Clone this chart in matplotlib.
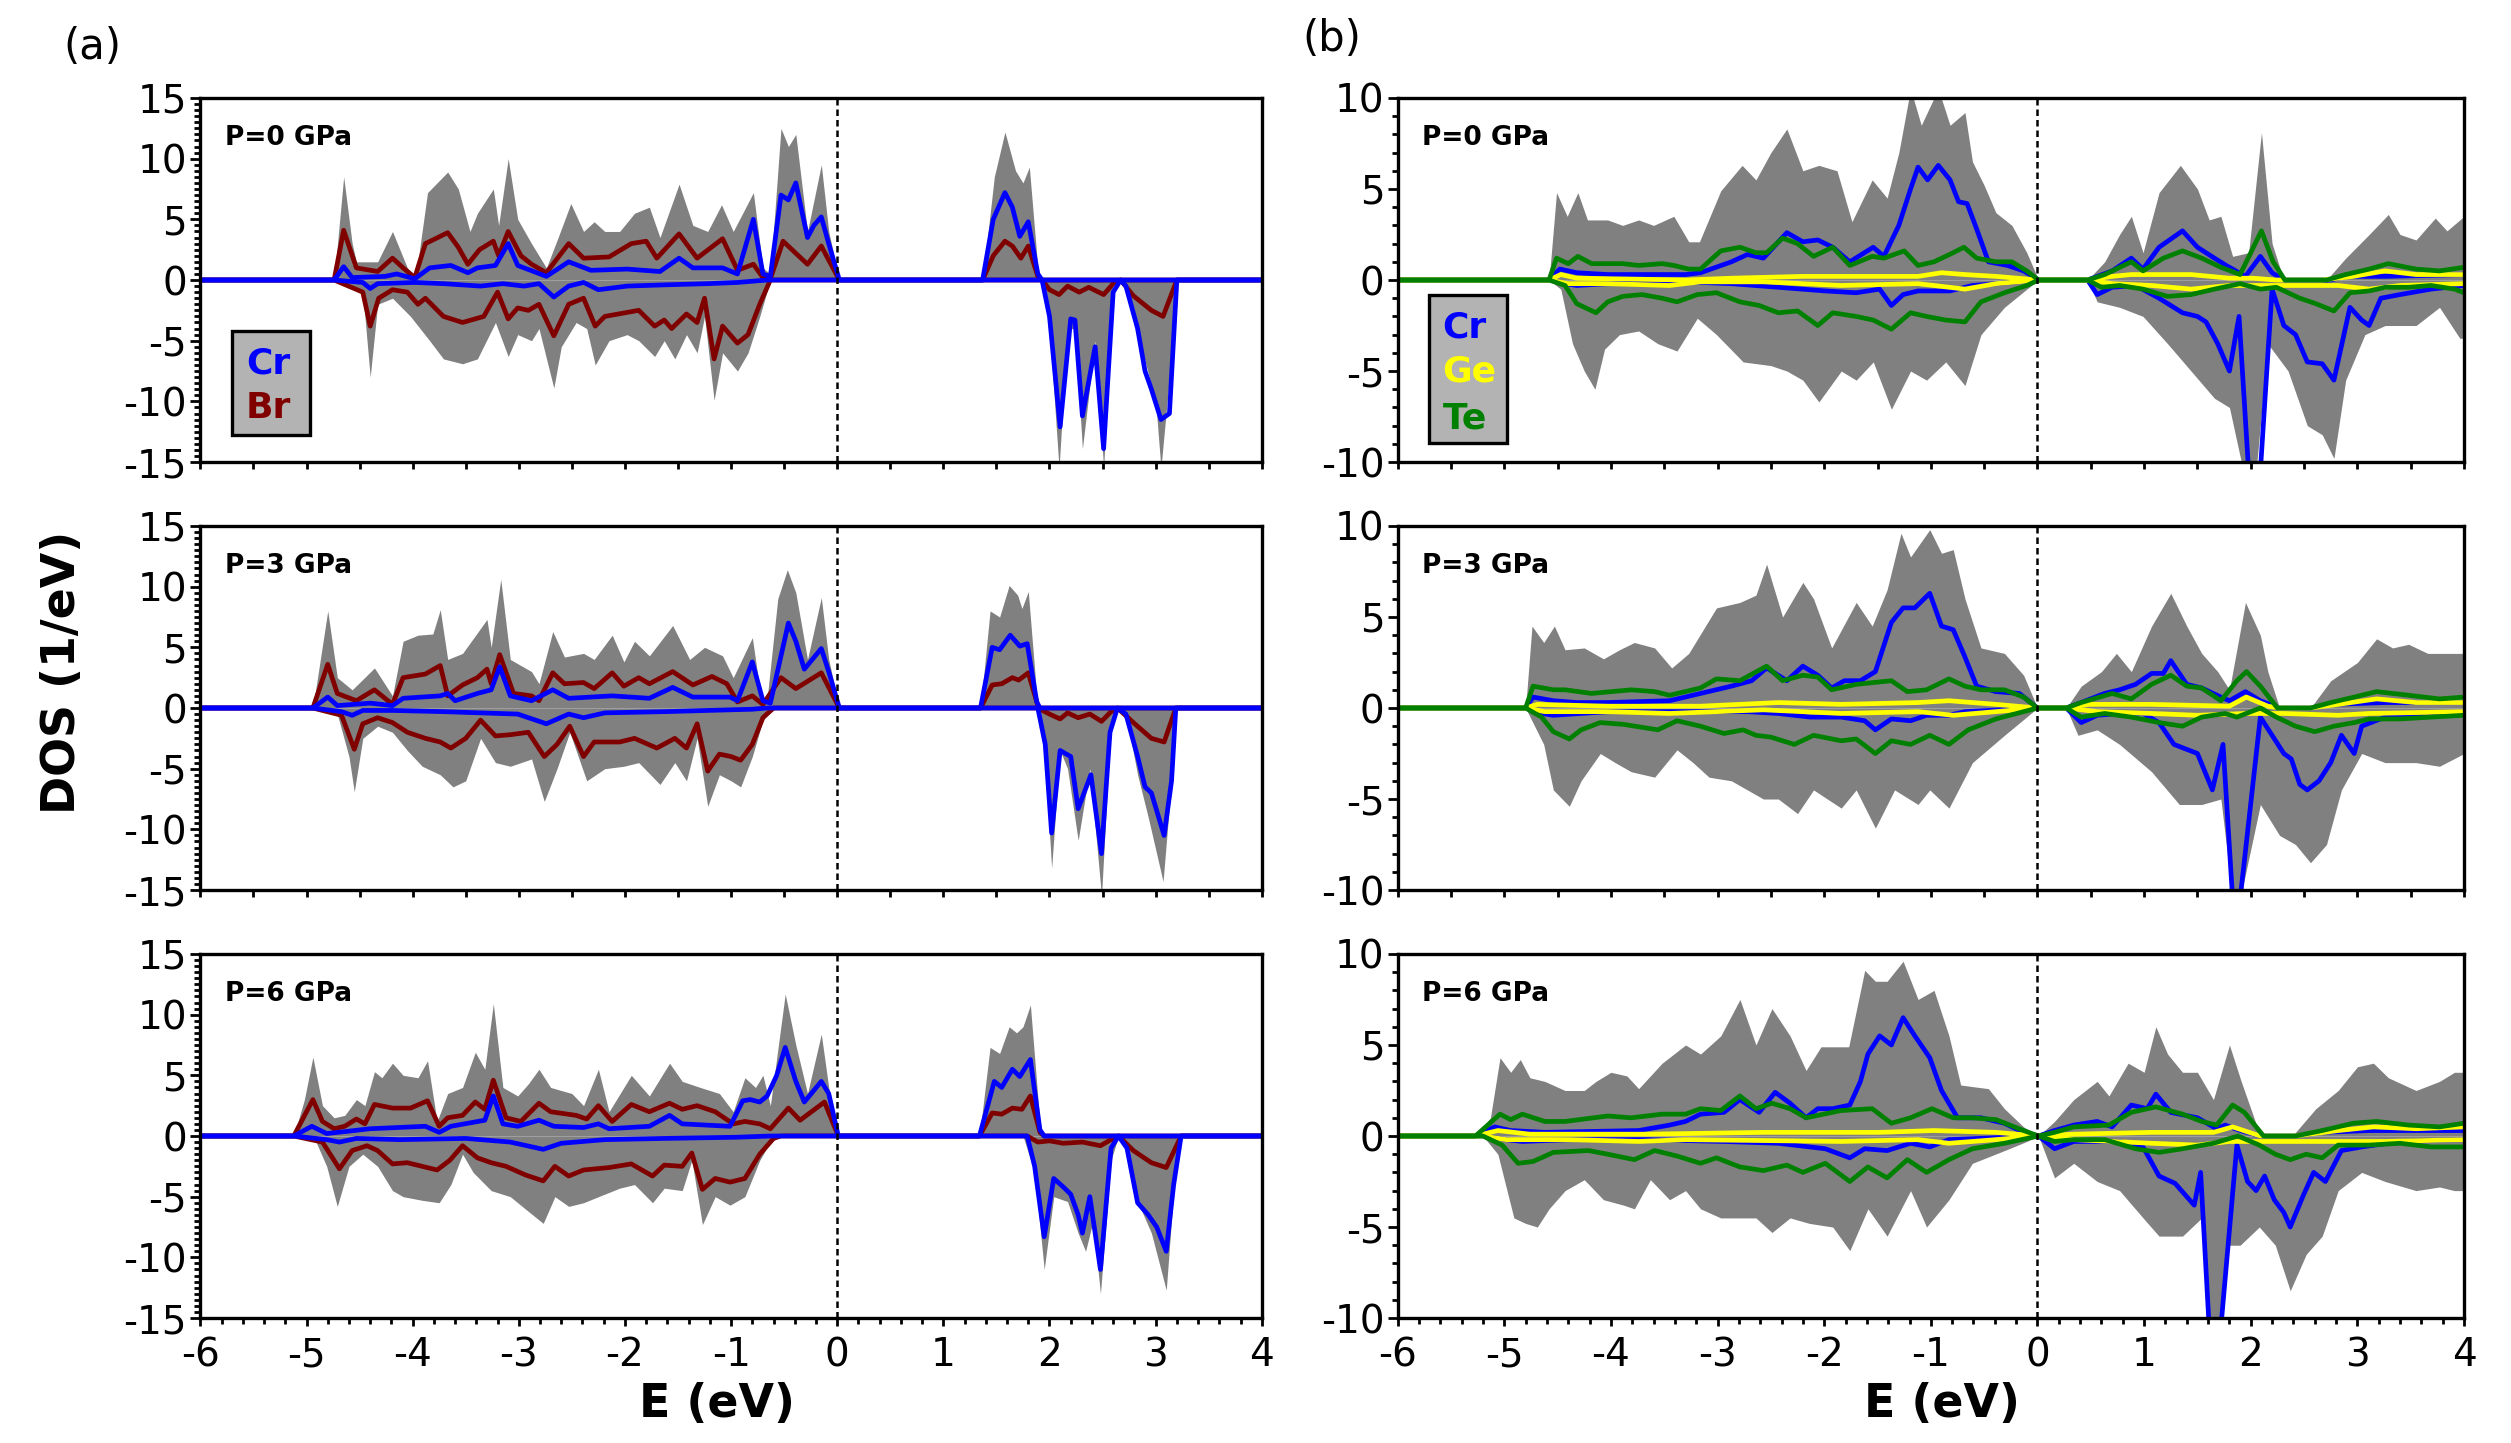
import numpy as np
import matplotlib
matplotlib.use("Agg")
import matplotlib.pyplot as plt
from matplotlib.ticker import MultipleLocator
from matplotlib.patches import Rectangle

# ---- (a) CrBr3 : (E, DOS) breakpoints ---------------------------------------
tot_up_a0 = [(-4.74,0),(-4.65,8.5),(-4.57,3.0),(-4.53,1.5),(-4.33,1.5),(-4.19,4.0),(-4.05,1.0),(-3.97,0.3),(-3.86,7.2),(-3.67,8.9),(-3.57,7.5),(-3.46,4.0),(-3.39,5.5),(-3.24,7.5),(-3.19,4.5),(-3.10,10.0),(-3.01,5.0),(-2.88,3.0),(-2.74,1.0),(-2.63,3.5),(-2.51,6.3),(-2.39,4.0),(-2.29,4.8),(-2.19,4.0),(-2.05,4.0),(-1.91,5.5),(-1.77,6.0),(-1.67,3.5),(-1.49,7.9),(-1.36,4.5),(-1.22,4.0),(-1.09,6.2),(-0.98,4.0),(-0.79,7.2),(-0.70,1.0),(-0.63,0.5),(-0.53,12.5),(-0.46,11.0),(-0.39,12.0),(-0.28,4.0),(-0.15,9.5),(-0.08,4.0),(0.02,0),
             (1.37,0),(1.48,8.5),(1.58,12.2),(1.68,9.0),(1.75,8.0),(1.81,9.3),(1.89,1.0),(1.93,0)]
tot_dn_a0 = [(-4.74,0),(-4.47,-1.0),(-4.40,-8.0),(-4.33,-2.0),(-4.19,-1.5),(-4.02,-3.0),(-3.84,-5.0),(-3.71,-6.5),(-3.53,-6.9),(-3.39,-6.5),(-3.22,-3.5),(-3.10,-6.3),(-3.01,-4.5),(-2.88,-5.0),(-2.81,-4.0),(-2.67,-8.9),(-2.60,-5.5),(-2.46,-3.5),(-2.36,-4.0),(-2.28,-7.0),(-2.15,-5.0),(-1.98,-4.5),(-1.87,-5.0),(-1.72,-6.3),(-1.63,-5.0),(-1.53,-6.5),(-1.42,-4.5),(-1.32,-6.0),(-1.25,-3.0),(-1.16,-9.9),(-1.08,-6.0),(-0.94,-7.5),(-0.84,-6.0),(-0.73,-3.0),(-0.63,0),
             (1.93,0),(2.00,-4.0),(2.09,-15.5),(2.17,-4.0),(2.24,-4.0),(2.31,-13.9),(2.43,-5.0),(2.51,-15.5),(2.60,0),(2.69,0),(2.79,-3.0),(2.91,-7.0),(3.00,-10.0),(3.05,-15.5),(3.13,-8.0),(3.20,0)]
br_up_a0 = [(-4.74,0),(-4.65,4.1),(-4.53,1.0),(-4.33,0.7),(-4.19,1.8),(-4.09,1.0),(-3.98,0.2),(-3.88,3.0),(-3.67,3.9),(-3.57,2.7),(-3.48,1.3),(-3.37,2.5),(-3.24,3.2),(-3.19,2.0),(-3.10,4.0),(-2.98,2.0),(-2.88,1.3),(-2.74,0.6),(-2.53,3.0),(-2.39,1.8),(-2.15,1.9),(-1.94,3.0),(-1.80,3.2),(-1.70,1.8),(-1.49,3.8),(-1.32,1.8),(-1.08,3.4),(-0.94,0.8),(-0.79,1.3),(-0.70,0.2),(-0.63,0.1),(-0.51,3.2),(-0.39,2.2),(-0.28,1.3),(-0.15,2.8),(0.02,0),
            (1.37,0),(1.47,2.0),(1.58,3.2),(1.65,2.8),(1.73,1.8),(1.80,2.8),(1.89,0.3),(1.93,0)]
br_dn_a0 = [(-4.74,0),(-4.47,-1.0),(-4.40,-3.8),(-4.32,-1.5),(-4.19,-0.8),(-4.05,-1.0),(-3.95,-2.0),(-3.88,-1.5),(-3.71,-3.0),(-3.53,-3.5),(-3.33,-3.0),(-3.20,-1.0),(-3.10,-3.2),(-3.01,-2.3),(-2.91,-2.5),(-2.81,-2.0),(-2.67,-4.6),(-2.53,-2.0),(-2.39,-1.5),(-2.28,-3.8),(-2.19,-3.0),(-1.87,-2.5),(-1.72,-3.8),(-1.63,-3.3),(-1.56,-4.0),(-1.42,-2.8),(-1.32,-3.5),(-1.25,-1.5),(-1.16,-6.5),(-1.08,-3.8),(-0.94,-5.2),(-0.84,-4.5),(-0.73,-2.0),(-0.63,0),
            (1.93,0),(2.00,-0.8),(2.09,-1.2),(2.17,-0.5),(2.28,-1.0),(2.37,-0.6),(2.51,-1.2),(2.60,-0.3),(2.67,0),(2.79,-1.3),(2.96,-2.5),(3.07,-3.0),(3.20,0)]
cr_up_a0 = [(-4.74,0),(-4.65,1.1),(-4.57,0.2),(-4.26,0.3),(-4.15,0.5),(-3.98,0.1),(-3.84,1.0),(-3.64,1.2),(-3.48,0.6),(-3.39,1.0),(-3.22,1.2),(-3.10,3.0),(-3.01,1.2),(-2.74,0.3),(-2.53,1.5),(-2.32,0.8),(-1.98,0.9),(-1.67,0.7),(-1.49,1.8),(-1.36,1.0),(-1.08,1.0),(-0.94,0.5),(-0.79,5.0),(-0.70,0.5),(-0.63,0.3),(-0.53,7.0),(-0.46,6.6),(-0.39,8.0),(-0.28,3.5),(-0.22,4.5),(-0.15,5.2),(-0.08,3.0),(0.02,0),
            (1.37,0),(1.47,5.0),(1.58,7.2),(1.65,6.0),(1.72,3.6),(1.80,4.8),(1.89,0.5),(1.93,0)]
cr_dn_a0 = [(-4.74,0),(-4.47,-0.2),(-4.40,-0.7),(-4.33,-0.3),(-3.98,-0.2),(-3.71,-0.3),(-3.36,-0.5),(-3.15,-0.3),(-2.95,-0.5),(-2.81,-0.3),(-2.67,-1.4),(-2.53,-0.5),(-2.39,-0.2),(-2.25,-0.8),(-1.98,-0.5),(-1.63,-0.4),(-1.22,-0.3),(-0.94,-0.2),(-0.66,0),
            (1.93,0),(2.00,-3.0),(2.10,-12.1),(2.20,-3.2),(2.24,-3.3),(2.31,-11.2),(2.43,-5.5),(2.51,-13.9),(2.60,-1.0),(2.67,0),(2.72,-0.5),(2.83,-4.0),(2.90,-7.5),(2.96,-9.0),(3.05,-11.5),(3.13,-11.0),(3.20,0)]

tot_up_a3 = [(-4.94,0),(-4.80,8.0),(-4.71,2.5),(-4.57,1.5),(-4.36,3.3),(-4.19,1.0),(-4.09,5.5),(-3.95,6.0),(-3.81,6.1),(-3.74,8.1),(-3.67,4.0),(-3.53,4.5),(-3.39,6.2),(-3.30,7.3),(-3.26,5.0),(-3.17,10.6),(-3.08,4.0),(-2.88,3.0),(-2.81,2.0),(-2.68,6.3),(-2.57,4.2),(-2.39,4.5),(-2.29,4.0),(-2.12,6.0),(-2.01,3.8),(-1.91,5.5),(-1.77,4.3),(-1.55,6.8),(-1.39,4.0),(-1.25,5.0),(-1.08,4.3),(-0.98,2.5),(-0.80,5.8),(-0.72,1.0),(-0.66,0.8),(-0.56,9.0),(-0.47,11.4),(-0.39,9.5),(-0.28,4.0),(-0.15,9.1),(-0.08,4.0),(0.02,0),
             (1.35,0),(1.44,8.0),(1.53,7.5),(1.62,10.1),(1.70,9.3),(1.74,8.2),(1.80,9.6),(1.88,1.0),(1.91,0)]
tot_dn_a3 = [(-4.94,0),(-4.71,-0.5),(-4.60,-4.0),(-4.55,-6.9),(-4.47,-2.5),(-4.33,-1.5),(-4.19,-2.0),(-4.05,-3.5),(-3.91,-4.8),(-3.74,-5.5),(-3.62,-6.5),(-3.50,-6.0),(-3.36,-2.5),(-3.22,-4.5),(-3.08,-4.8),(-2.88,-4.2),(-2.76,-7.7),(-2.64,-5.0),(-2.52,-2.0),(-2.36,-6.0),(-2.19,-5.0),(-2.01,-4.8),(-1.87,-4.5),(-1.67,-6.3),(-1.53,-4.5),(-1.42,-6.0),(-1.32,-2.5),(-1.22,-8.1),(-1.11,-5.5),(-1.00,-6.0),(-0.91,-6.5),(-0.80,-4.0),(-0.70,-1.0),(-0.60,0),
             (1.89,0),(1.95,-3.0),(2.02,-13.2),(2.10,-3.5),(2.17,-5.0),(2.27,-10.9),(2.38,-5.0),(2.49,-15.5),(2.58,-1.0),(2.65,0),(2.72,-0.5),(2.83,-5.5),(2.93,-9.0),(3.07,-14.3),(3.13,-8.0),(3.19,0)]
br_up_a3 = [(-4.94,0),(-4.80,3.6),(-4.71,1.2),(-4.53,0.6),(-4.36,1.5),(-4.19,0.3),(-4.09,2.5),(-3.88,2.8),(-3.74,3.5),(-3.67,1.0),(-3.53,1.9),(-3.39,2.5),(-3.30,3.2),(-3.26,2.0),(-3.18,4.4),(-3.05,1.2),(-2.88,1.0),(-2.81,0.6),(-2.68,2.9),(-2.57,2.0),(-2.39,2.1),(-2.29,1.6),(-2.12,2.9),(-2.01,1.8),(-1.87,2.5),(-1.77,2.0),(-1.55,3.0),(-1.36,1.9),(-1.18,2.6),(-1.04,2.0),(-0.94,0.5),(-0.80,1.0),(-0.70,0.3),(-0.53,2.5),(-0.39,1.6),(-0.15,2.9),(0.02,0),
            (1.35,0),(1.46,1.9),(1.55,2.0),(1.65,2.5),(1.71,2.3),(1.80,2.9),(1.89,0.2),(1.91,0)]
br_dn_a3 = [(-4.94,0),(-4.67,-0.6),(-4.55,-3.4),(-4.47,-1.3),(-4.33,-0.8),(-4.19,-1.2),(-4.05,-2.0),(-3.88,-2.5),(-3.74,-2.8),(-3.64,-3.3),(-3.50,-2.5),(-3.36,-1.0),(-3.22,-2.3),(-3.08,-2.2),(-2.91,-2.0),(-2.76,-4.0),(-2.64,-3.0),(-2.52,-1.5),(-2.39,-4.0),(-2.29,-2.8),(-2.05,-2.8),(-1.91,-2.5),(-1.70,-3.3),(-1.53,-2.5),(-1.42,-3.3),(-1.32,-1.3),(-1.22,-5.2),(-1.11,-3.8),(-1.00,-4.0),(-0.91,-4.3),(-0.80,-3.0),(-0.70,-0.8),(-0.60,0),
            (1.89,0),(2.00,-0.5),(2.10,-0.9),(2.17,-0.4),(2.27,-0.8),(2.38,-0.5),(2.49,-1.1),(2.58,-0.3),(2.64,0),(2.79,-1.2),(2.96,-2.5),(3.08,-2.8),(3.19,0)]
cr_up_a3 = [(-4.94,0),(-4.80,0.9),(-4.71,0.2),(-4.40,0.4),(-4.19,0.2),(-4.09,0.8),(-3.74,1.0),(-3.67,1.2),(-3.60,0.6),(-3.39,1.2),(-3.26,1.5),(-3.18,3.4),(-3.08,1.0),(-2.88,0.6),(-2.68,1.5),(-2.53,0.8),(-2.12,1.0),(-1.77,0.8),(-1.55,1.7),(-1.36,0.9),(-1.01,0.9),(-0.94,0.6),(-0.80,3.8),(-0.70,0.6),(-0.63,0.4),(-0.46,7.0),(-0.39,5.5),(-0.31,3.2),(-0.15,4.9),(-0.08,3.0),(0.02,0),
            (1.35,0),(1.46,5.0),(1.53,4.8),(1.63,6.0),(1.72,5.1),(1.79,5.3),(1.88,0.5),(1.91,0)]
cr_dn_a3 = [(-4.94,0),(-4.67,-0.3),(-4.57,-0.6),(-4.47,-0.2),(-4.19,-0.2),(-3.71,-0.3),(-3.36,-0.4),(-3.01,-0.5),(-2.74,-1.3),(-2.53,-0.5),(-2.39,-0.8),(-2.19,-0.4),(-1.63,-0.3),(-1.22,-0.2),(-0.80,-0.1),(-0.66,0),
            (1.89,0),(1.96,-3.0),(2.02,-10.3),(2.10,-3.5),(2.20,-4.0),(2.27,-8.3),(2.39,-5.5),(2.49,-12.0),(2.57,-2.0),(2.64,0),(2.72,-0.5),(2.83,-4.0),(2.90,-6.5),(2.96,-7.0),(3.08,-10.5),(3.15,-6.0),(3.19,0)]

tot_up_a6 = [(-5.12,0),(-5.02,3.0),(-4.94,6.5),(-4.85,2.5),(-4.74,1.5),(-4.64,1.7),(-4.53,3.0),(-4.45,2.5),(-4.36,5.3),(-4.29,4.8),(-4.19,6.0),(-4.09,5.0),(-3.95,4.8),(-3.86,6.2),(-3.77,1.2),(-3.67,3.5),(-3.53,4.0),(-3.41,6.9),(-3.32,5.5),(-3.24,10.9),(-3.15,4.0),(-3.01,3.3),(-2.91,4.3),(-2.81,5.5),(-2.70,4.0),(-2.50,3.5),(-2.39,2.5),(-2.25,5.5),(-2.15,2.0),(-1.94,5.0),(-1.77,3.3),(-1.58,6.0),(-1.46,4.5),(-1.29,4.0),(-1.11,3.5),(-0.98,2.0),(-0.87,4.8),(-0.77,4.0),(-0.70,5.0),(-0.63,2.5),(-0.49,11.7),(-0.39,7.5),(-0.28,3.5),(-0.15,8.4),(-0.08,4.0),(0.01,0),
             (1.34,0),(1.44,7.3),(1.53,6.8),(1.62,9.0),(1.69,8.5),(1.75,9.0),(1.82,10.8),(1.91,1.0),(1.95,0)]
tot_dn_a6 = [(-5.12,0),(-4.92,-0.3),(-4.81,-2.5),(-4.71,-5.8),(-4.60,-2.5),(-4.47,-1.5),(-4.33,-2.5),(-4.19,-4.5),(-4.09,-5.0),(-3.91,-5.3),(-3.75,-5.5),(-3.64,-4.0),(-3.53,-1.5),(-3.43,-3.0),(-3.26,-4.5),(-3.08,-5.0),(-2.94,-6.0),(-2.77,-7.2),(-2.66,-5.0),(-2.53,-5.8),(-2.39,-5.5),(-2.25,-5.0),(-2.05,-4.3),(-1.91,-4.0),(-1.74,-5.5),(-1.63,-4.3),(-1.46,-4.5),(-1.37,-2.0),(-1.27,-7.3),(-1.15,-5.0),(-1.01,-5.7),(-0.87,-5.0),(-0.73,-2.0),(-0.63,-0.5),(-0.53,0),
             (1.75,0),(1.86,-3.0),(1.95,-11.0),(2.04,-5.0),(2.17,-5.4),(2.27,-8.0),(2.34,-9.5),(2.41,-7.0),(2.48,-13.0),(2.58,-2.0),(2.65,0),(2.72,-1.0),(2.86,-6.0),(2.96,-8.0),(3.10,-12.7),(3.17,-4.5),(3.24,0)]
br_up_a6 = [(-5.12,0),(-4.94,3.0),(-4.85,1.2),(-4.74,0.6),(-4.64,0.8),(-4.53,1.4),(-4.45,1.0),(-4.36,2.6),(-4.19,2.3),(-4.02,2.3),(-3.86,2.9),(-3.75,0.8),(-3.67,1.5),(-3.53,1.7),(-3.41,2.8),(-3.32,2.2),(-3.24,4.6),(-3.12,1.5),(-2.98,1.2),(-2.81,2.7),(-2.70,2.0),(-2.46,1.7),(-2.36,1.4),(-2.25,2.5),(-2.12,1.2),(-1.94,2.6),(-1.77,2.0),(-1.58,2.7),(-1.46,2.2),(-1.32,2.5),(-1.15,2.0),(-0.98,1.0),(-0.87,1.2),(-0.73,1.0),(-0.63,0.6),(-0.46,2.3),(-0.35,1.3),(-0.12,2.8),(0.01,0),
            (1.34,0),(1.46,1.9),(1.55,1.8),(1.65,2.3),(1.74,2.2),(1.82,3.3),(1.91,0.3),(1.95,0)]
br_dn_a6 = [(-5.12,0),(-4.85,-0.5),(-4.69,-2.7),(-4.57,-1.2),(-4.43,-0.8),(-4.33,-1.2),(-4.19,-2.3),(-4.05,-2.2),(-3.91,-2.5),(-3.77,-2.8),(-3.65,-2.0),(-3.53,-0.8),(-3.39,-1.8),(-3.26,-2.2),(-3.12,-2.5),(-2.94,-3.2),(-2.77,-3.7),(-2.66,-2.5),(-2.53,-3.3),(-2.39,-2.8),(-2.15,-2.6),(-1.94,-2.3),(-1.74,-3.3),(-1.63,-2.4),(-1.46,-2.5),(-1.37,-1.4),(-1.27,-4.4),(-1.15,-3.5),(-1.01,-3.8),(-0.87,-3.5),(-0.73,-1.5),(-0.60,-0.2),(-0.53,0),
            (1.79,0),(1.89,-0.5),(2.00,-0.4),(2.13,-0.6),(2.31,-0.5),(2.48,-0.8),(2.58,-0.3),(2.65,0),(2.79,-1.2),(2.96,-2.2),(3.10,-2.6),(3.24,0)]
cr_up_a6 = [(-5.12,0),(-4.95,0.8),(-4.81,0.2),(-4.60,0.4),(-4.40,0.6),(-3.88,0.8),(-3.75,0.3),(-3.64,0.8),(-3.32,1.3),(-3.24,3.3),(-3.15,1.0),(-3.01,0.8),(-2.81,1.3),(-2.67,0.8),(-2.39,0.7),(-2.25,1.0),(-2.15,0.6),(-1.77,0.8),(-1.58,1.7),(-1.46,1.0),(-1.01,0.8),(-0.89,2.9),(-0.82,3.0),(-0.73,2.8),(-0.66,3.3),(-0.57,5.0),(-0.49,7.3),(-0.39,4.5),(-0.31,2.8),(-0.15,4.5),(-0.08,3.5),(0.01,0),
            (1.34,0),(1.48,4.5),(1.55,4.0),(1.65,5.5),(1.72,4.9),(1.82,6.3),(1.91,0.5),(1.95,0)]
cr_dn_a6 = [(-5.12,0),(-4.81,-0.3),(-4.69,-0.5),(-4.53,-0.2),(-4.12,-0.3),(-3.50,-0.2),(-3.08,-0.5),(-2.77,-1.1),(-2.60,-0.6),(-2.19,-0.3),(-1.63,-0.2),(-0.94,-0.1),(-0.63,0),
            (1.79,0),(1.86,-2.5),(1.95,-8.3),(2.04,-3.5),(2.13,-4.2),(2.20,-4.8),(2.27,-6.5),(2.31,-8.0),(2.38,-5.0),(2.48,-11.0),(2.58,-1.0),(2.65,0),(2.73,-1.0),(2.83,-5.5),(2.93,-6.5),(3.01,-7.5),(3.10,-9.5),(3.17,-4.0),(3.24,0)]

# ---- (b) CrGeTe3 -------------------------------------------------------------
tot_up_b0 = [(-4.58,0),(-4.51,4.8),(-4.41,3.5),(-4.31,4.8),(-4.22,3.3),(-4.03,3.3),(-3.89,3.0),(-3.74,3.3),(-3.60,3.0),(-3.41,3.5),(-3.27,2.1),(-3.17,2.1),(-2.97,4.9),(-2.77,6.3),(-2.64,5.5),(-2.50,7.0),(-2.35,8.3),(-2.20,6.0),(-2.05,6.3),(-1.88,6.0),(-1.74,3.2),(-1.55,5.5),(-1.41,4.5),(-1.30,7.0),(-1.19,10.5),(-1.09,8.5),(-0.93,10.5),(-0.82,8.5),(-0.68,9.2),(-0.61,6.5),(-0.50,5.2),(-0.39,3.7),(-0.24,3.0),(-0.10,1.5),(0.01,0),
             (0.47,0),(0.63,1.0),(0.77,2.5),(0.88,3.5),(0.99,1.5),(1.14,4.8),(1.34,6.3),(1.50,5.0),(1.61,3.3),(1.72,3.5),(1.83,1.3),(1.98,1.5),(2.10,8.1),(2.20,2.0),(2.31,0),(2.71,0),(2.89,1.2),(3.11,2.5),(3.29,3.6),(3.40,2.5),(3.55,2.2),(3.73,3.4),(3.84,2.7),(4.00,3.5)]
tot_dn_b0 = [(-4.58,0),(-4.47,-0.5),(-4.36,-3.5),(-4.25,-5.0),(-4.15,-6.0),(-4.06,-3.8),(-3.92,-3.0),(-3.74,-2.8),(-3.56,-3.5),(-3.38,-3.9),(-3.19,-2.1),(-3.01,-3.0),(-2.76,-4.5),(-2.50,-4.7),(-2.35,-5.0),(-2.20,-5.5),(-2.05,-6.7),(-1.84,-5.0),(-1.70,-5.5),(-1.54,-4.5),(-1.37,-7.1),(-1.19,-5.0),(-1.04,-5.5),(-0.86,-4.5),(-0.68,-5.8),(-0.53,-3.0),(-0.31,-1.5),(-0.10,-0.5),(0.01,0),
             (0.47,0),(0.56,-1.2),(0.77,-1.5),(0.99,-2.0),(1.22,-3.5),(1.44,-5.0),(1.66,-6.5),(1.80,-7.0),(1.93,-10.5),(2.05,-10.5),(2.16,-3.5),(2.35,-5.0),(2.53,-8.0),(2.67,-8.5),(2.78,-9.8),(2.89,-5.5),(3.07,-3.0),(3.26,-2.5),(3.55,-2.5),(3.77,-1.5),(3.96,-3.2),(4.00,-3.2)]
cr_up_b0 = [(-4.58,0),(-4.48,0.6),(-4.32,0.4),(-4.03,0.3),(-3.30,0.3),(-3.16,0.4),(-2.87,1.0),(-2.72,1.4),(-2.57,1.2),(-2.35,2.6),(-2.20,2.1),(-2.06,2.2),(-1.92,1.8),(-1.76,1.0),(-1.54,1.8),(-1.44,1.3),(-1.30,3.0),(-1.19,5.0),(-1.12,6.2),(-1.03,5.5),(-0.93,6.3),(-0.82,5.5),(-0.74,4.3),(-0.66,4.2),(-0.57,2.8),(-0.46,1.0),(-0.28,0.8),(-0.13,0.5),(0.01,0),
            (0.47,0),(0.70,0.5),(0.88,1.2),(0.99,0.6),(1.14,1.8),(1.36,2.7),(1.50,1.8),(1.66,1.2),(1.77,0.8),(1.95,0.2),(2.09,1.3),(2.20,0.4),(2.31,0),(2.75,0),(2.89,0.2),(3.26,0.2),(4.00,0.3)]
cr_dn_b0 = [(-4.58,0),(-4.43,-0.2),(-4.32,-0.3),(-4.03,-0.2),(-3.30,-0.1),(-2.87,-0.2),(-2.43,-0.4),(-1.99,-0.6),(-1.70,-0.7),(-1.48,-0.5),(-1.37,-1.4),(-1.26,-0.8),(-1.12,-0.6),(-0.82,-0.6),(-0.61,-0.3),(-0.39,-0.2),(0.01,0),
            (0.47,0),(0.56,-0.8),(0.70,-0.4),(0.92,-0.3),(1.14,-1.0),(1.36,-1.8),(1.50,-2.0),(1.58,-2.3),(1.69,-3.5),(1.80,-5.0),(1.89,-2.0),(1.98,-10.5),(2.09,-10.5),(2.20,-0.5),(2.31,-2.5),(2.42,-3.0),(2.53,-4.5),(2.67,-4.6),(2.78,-5.5),(2.93,-1.5),(3.04,-2.2),(3.11,-2.5),(3.22,-1.0),(3.40,-0.8),(3.69,-0.5),(4.00,-0.3)]
ge_up_b0 = [(-4.58,0),(-4.47,0.3),(-4.32,0.1),(-3.30,0.0),(-2.87,0.1),(-2.20,0.2),(-1.12,0.2),(-0.90,0.4),(-0.68,0.3),(-0.39,0.2),(0.01,0),
            (0.47,0),(0.70,0.2),(0.88,0.3),(1.44,0.3),(1.80,0.1),(2.02,0.1),(2.24,0),(2.67,0),(2.96,0.2),(3.26,0.5),(3.55,0.3),(4.00,0.3)]
ge_dn_b0 = [(-4.58,0),(-4.40,-0.2),(-4.03,-0.2),(-3.45,-0.3),(-3.16,-0.1),(-2.57,-0.1),(-1.84,-0.3),(-1.12,-0.2),(-0.68,-0.5),(-0.39,-0.2),(0.01,0),
            (0.47,0),(0.70,-0.2),(1.07,-0.3),(1.44,-0.5),(1.80,-0.3),(2.09,-0.3),(2.31,-0.3),(2.53,-0.3),(2.82,-0.3),(3.11,-0.5),(3.40,-0.3),(4.00,-0.2)]
te_up_b0 = [(-4.58,0),(-4.51,1.2),(-4.40,0.9),(-4.31,1.3),(-4.18,0.9),(-3.89,0.9),(-3.74,0.8),(-3.52,0.9),(-3.41,0.8),(-3.27,0.6),(-3.16,0.6),(-2.97,1.6),(-2.79,1.8),(-2.64,1.5),(-2.54,1.5),(-2.39,2.3),(-2.25,2.0),(-2.10,1.3),(-1.92,1.8),(-1.76,0.8),(-1.55,1.3),(-1.44,1.2),(-1.25,1.6),(-1.12,0.8),(-0.97,1.0),(-0.79,1.5),(-0.69,1.8),(-0.57,1.2),(-0.39,1.0),(-0.24,1.0),(-0.10,0.5),(0.01,0),
            (0.47,0),(0.63,0.3),(0.88,1.0),(0.99,0.5),(1.18,1.2),(1.36,1.6),(1.54,1.2),(1.72,0.7),(1.90,0.3),(2.10,2.7),(2.21,1.0),(2.32,0),(2.71,0),(2.89,0.3),(3.11,0.6),(3.29,0.9),(3.55,0.6),(3.77,0.5),(4.00,0.7)]
te_dn_b0 = [(-4.58,0),(-4.43,-0.3),(-4.32,-1.3),(-4.14,-1.8),(-4.03,-1.2),(-3.89,-0.9),(-3.71,-0.8),(-3.52,-1.0),(-3.38,-1.2),(-3.19,-0.8),(-3.01,-0.7),(-2.79,-1.2),(-2.61,-1.4),(-2.43,-1.8),(-2.25,-1.7),(-2.06,-2.5),(-1.92,-1.8),(-1.70,-2.0),(-1.54,-2.2),(-1.37,-2.7),(-1.19,-1.8),(-1.04,-2.0),(-0.86,-2.2),(-0.68,-2.3),(-0.53,-1.2),(-0.31,-0.7),(-0.10,-0.3),(0.01,0),
            (0.47,0),(0.60,-0.4),(0.77,-0.3),(0.99,-0.5),(1.22,-0.9),(1.44,-0.8),(1.66,-0.5),(1.90,-0.2),(2.09,-0.5),(2.24,-0.4),(2.46,-1.0),(2.61,-1.3),(2.78,-1.7),(2.93,-0.7),(3.11,-0.6),(3.26,-0.4),(3.48,-0.4),(3.69,-0.3),(3.91,-0.5),(4.00,-0.7)]

tot_up_b3 = [(-4.80,0),(-4.74,4.5),(-4.63,3.6),(-4.53,4.5),(-4.43,3.2),(-4.25,3.3),(-4.07,2.7),(-3.92,3.2),(-3.78,3.6),(-3.59,3.3),(-3.43,2.2),(-3.27,3.0),(-3.01,5.5),(-2.79,5.8),(-2.64,6.2),(-2.54,7.9),(-2.39,5.0),(-2.20,6.9),(-2.10,6.0),(-1.93,3.3),(-1.70,5.8),(-1.55,4.5),(-1.41,6.5),(-1.28,9.6),(-1.19,8.3),(-1.01,9.8),(-0.90,8.5),(-0.79,8.7),(-0.68,6.0),(-0.53,3.3),(-0.31,3.0),(-0.13,1.8),(0.00,0),
             (0.27,0),(0.41,1.2),(0.60,2.0),(0.74,3.0),(0.88,2.0),(1.07,4.5),(1.25,6.3),(1.40,4.5),(1.54,3.0),(1.69,2.0),(1.80,1.0),(1.95,5.8),(2.09,4.0),(2.16,2.0),(2.27,0),(2.56,0),(2.75,1.5),(3.00,2.5),(3.18,3.8),(3.33,3.3),(3.48,3.5),(3.66,3.0),(3.81,3.0),(4.00,3.0)]
tot_dn_b3 = [(-4.80,0),(-4.63,-2.0),(-4.54,-4.5),(-4.39,-5.4),(-4.28,-4.0),(-4.10,-2.5),(-3.96,-3.0),(-3.81,-3.5),(-3.59,-3.8),(-3.38,-2.3),(-3.23,-3.0),(-3.08,-3.8),(-2.87,-4.0),(-2.57,-5.0),(-2.43,-5.0),(-2.25,-5.8),(-2.10,-4.5),(-1.84,-5.5),(-1.70,-4.5),(-1.52,-6.6),(-1.34,-4.5),(-1.12,-5.3),(-1.01,-4.5),(-0.83,-5.5),(-0.61,-3.0),(-0.31,-1.5),(0.00,0),
             (0.27,0),(0.38,-1.5),(0.56,-1.2),(0.77,-2.0),(1.07,-3.5),(1.33,-5.3),(1.54,-5.3),(1.72,-5.0),(1.83,-10.5),(1.90,-10.5),(2.09,-5.3),(2.27,-7.0),(2.42,-7.5),(2.56,-8.5),(2.71,-7.5),(2.85,-4.5),(3.04,-2.5),(3.26,-3.0),(3.55,-3.0),(3.77,-3.2),(4.00,-2.5)]
cr_up_b3 = [(-4.80,0),(-4.73,0.6),(-4.54,0.4),(-4.32,0.3),(-4.03,0.3),(-3.45,0.4),(-3.16,0.8),(-2.87,1.2),(-2.68,1.5),(-2.54,2.2),(-2.35,1.5),(-2.20,2.3),(-2.06,1.8),(-1.93,1.1),(-1.81,1.5),(-1.66,1.5),(-1.52,2.0),(-1.37,4.7),(-1.26,5.5),(-1.15,5.5),(-1.01,6.3),(-0.90,4.5),(-0.79,4.3),(-0.68,2.8),(-0.57,1.2),(-0.39,0.9),(-0.17,0.8),(0.00,0),
            (0.27,0),(0.41,0.3),(0.63,0.8),(0.77,1.0),(0.92,1.3),(1.07,1.9),(1.18,1.9),(1.25,2.6),(1.40,1.3),(1.54,1.1),(1.72,0.6),(1.80,0.4),(1.95,0.9),(2.09,0.4),(2.27,0),(2.56,0),(2.75,0.2),(3.26,0.3),(4.00,0.3)]
cr_dn_b3 = [(-4.80,0),(-4.65,-0.3),(-4.54,-0.4),(-4.03,-0.2),(-3.30,-0.2),(-2.72,-0.2),(-2.43,-0.3),(-2.13,-0.5),(-1.84,-0.5),(-1.62,-0.7),(-1.52,-1.2),(-1.37,-0.6),(-1.19,-0.7),(-1.04,-0.4),(-0.83,-0.4),(-0.68,-0.2),(0.00,0),
            (0.27,0),(0.41,-0.8),(0.56,-0.4),(0.77,-0.3),(0.99,-0.3),(1.14,-0.8),(1.28,-2.0),(1.50,-2.5),(1.64,-4.5),(1.74,-2.0),(1.83,-10.5),(1.90,-10.5),(2.09,-0.5),(2.20,-1.5),(2.31,-2.5),(2.38,-2.8),(2.46,-4.2),(2.53,-4.5),(2.64,-4.0),(2.75,-3.0),(2.85,-1.5),(2.97,-2.5),(3.04,-1.0),(3.26,-0.5),(3.62,-0.4),(4.00,-0.3)]
ge_up_b3 = [(-4.80,0),(-4.69,0.2),(-4.03,0.1),(-3.16,0.1),(-2.43,0.3),(-1.84,0.2),(-1.12,0.3),(-0.83,0.4),(-0.39,0.2),(0.00,0),
            (0.27,0),(0.48,0.2),(1.07,0.2),(1.80,0.1),(1.96,0.6),(2.16,0.1),(2.27,0),(2.56,0),(2.82,0.2),(3.18,0.5),(3.55,0.3),(4.00,0.3)]
ge_dn_b3 = [(-4.80,0),(-4.62,-0.2),(-4.03,-0.2),(-3.45,-0.3),(-2.57,-0.1),(-1.84,-0.3),(-1.12,-0.2),(-0.79,-0.4),(-0.39,-0.2),(0.00,0),
            (0.27,0),(0.56,-0.2),(1.07,-0.3),(1.50,-0.4),(1.95,-0.3),(2.31,-0.3),(2.82,-0.4),(3.11,-0.3),(4.00,-0.2)]
te_up_b3 = [(-4.80,0),(-4.73,1.2),(-4.54,1.0),(-4.43,1.0),(-4.18,0.8),(-3.81,1.0),(-3.59,0.9),(-3.45,0.7),(-3.16,1.1),(-3.01,1.6),(-2.79,1.5),(-2.54,2.3),(-2.39,1.5),(-2.20,1.8),(-2.06,1.7),(-1.93,1.0),(-1.70,1.3),(-1.37,1.5),(-1.22,0.9),(-1.04,1.0),(-0.83,1.6),(-0.68,1.2),(-0.53,1.0),(-0.31,1.0),(-0.13,0.6),(0.00,0),
            (0.27,0),(0.41,0.3),(0.70,0.8),(0.88,0.5),(1.07,1.3),(1.25,1.8),(1.40,1.2),(1.54,1.1),(1.72,0.4),(1.87,1.5),(1.96,2.0),(2.09,1.2),(2.25,0),(2.56,0),(2.75,0.3),(2.97,0.6),(3.18,0.9),(3.48,0.7),(3.77,0.5),(4.00,0.6)]
te_dn_b3 = [(-4.80,0),(-4.65,-0.5),(-4.54,-1.3),(-4.39,-1.7),(-4.28,-1.2),(-4.10,-0.8),(-3.88,-0.9),(-3.56,-1.2),(-3.38,-0.7),(-3.16,-1.0),(-2.94,-1.4),(-2.76,-1.2),(-2.64,-1.5),(-2.50,-1.6),(-2.28,-2.0),(-2.10,-1.5),(-1.84,-1.8),(-1.70,-1.7),(-1.52,-2.5),(-1.37,-1.8),(-1.19,-2.0),(-1.01,-1.5),(-0.83,-2.0),(-0.65,-1.2),(-0.39,-0.6),(-0.13,-0.2),(0.00,0),
            (0.27,0),(0.41,-0.5),(0.63,-0.3),(0.88,-0.5),(1.14,-0.8),(1.36,-1.0),(1.54,-0.5),(1.76,-0.3),(1.87,-0.5),(2.09,0),(2.24,-0.5),(2.42,-1.0),(2.60,-1.3),(2.78,-1.0),(2.97,-0.8),(3.11,-0.6),(3.40,-0.6),(3.69,-0.5),(4.00,-0.4)]

tot_up_b6 = [(-5.27,0),(-5.13,1.0),(-5.04,4.3),(-4.94,3.5),(-4.85,4.2),(-4.76,3.2),(-4.62,3.0),(-4.43,2.5),(-4.25,2.5),(-4.14,3.0),(-4.00,3.5),(-3.85,3.3),(-3.74,2.6),(-3.52,4.0),(-3.30,5.0),(-3.16,4.5),(-2.97,5.5),(-2.79,7.5),(-2.64,5.0),(-2.49,7.0),(-2.32,5.5),(-2.17,3.6),(-2.03,4.9),(-1.77,4.9),(-1.62,9.1),(-1.52,8.5),(-1.41,8.5),(-1.26,9.6),(-1.12,7.5),(-0.97,8.0),(-0.83,5.5),(-0.72,2.8),(-0.46,2.6),(-0.31,1.5),(-0.13,0.5),(0.01,0),
             (0.16,0.8),(0.34,2.0),(0.56,3.0),(0.67,2.2),(0.85,4.0),(1.00,3.5),(1.11,6.0),(1.22,4.5),(1.36,3.5),(1.50,3.5),(1.65,2.0),(1.80,5.0),(1.91,3.0),(2.06,0.5),(2.13,0),(2.39,0),(2.61,1.5),(2.82,2.5),(3.00,3.8),(3.15,4.0),(3.29,3.2),(3.55,2.5),(3.77,3.0),(3.91,3.5),(4.00,3.5)]
tot_dn_b6 = [(-5.20,0),(-5.06,-1.0),(-4.91,-4.5),(-4.80,-4.8),(-4.69,-5.0),(-4.58,-4.0),(-4.43,-3.0),(-4.25,-2.4),(-4.07,-3.5),(-3.88,-3.8),(-3.78,-4.0),(-3.63,-2.4),(-3.45,-3.5),(-3.30,-3.0),(-3.16,-4.0),(-2.97,-4.5),(-2.79,-4.5),(-2.64,-4.5),(-2.49,-5.3),(-2.32,-4.5),(-2.14,-4.8),(-1.92,-5.0),(-1.76,-6.3),(-1.59,-4.0),(-1.41,-5.5),(-1.19,-3.0),(-1.04,-5.0),(-0.83,-3.5),(-0.61,-1.5),(-0.31,-0.8),(-0.10,-0.3),(0.01,0),
             (0.16,-2.3),(0.34,-1.5),(0.56,-2.5),(0.77,-3.0),(0.99,-4.5),(1.14,-5.5),(1.36,-5.5),(1.54,-4.5),(1.61,-10.5),(1.72,-10.5),(1.79,-6.0),(1.90,-6.0),(2.08,-5.0),(2.23,-6.0),(2.37,-8.5),(2.52,-6.5),(2.67,-5.5),(2.82,-3.0),(3.04,-2.0),(3.26,-2.5),(3.55,-3.0),(3.77,-2.8),(3.91,-3.0),(4.00,-3.0)]
cr_up_b6 = [(-5.27,0),(-5.09,0.5),(-4.94,0.3),(-4.62,0.2),(-3.74,0.3),(-3.45,0.6),(-3.30,0.8),(-3.16,1.2),(-2.94,1.3),(-2.79,2.0),(-2.61,1.3),(-2.46,2.4),(-2.32,1.8),(-2.17,1.0),(-2.06,1.5),(-1.92,1.5),(-1.76,1.7),(-1.66,3.0),(-1.59,4.5),(-1.48,5.5),(-1.37,5.0),(-1.26,6.5),(-1.15,5.5),(-1.01,4.3),(-0.90,2.5),(-0.75,1.0),(-0.53,1.0),(-0.31,0.7),(-0.13,0.2),(0.01,0),
            (0.16,0.3),(0.34,0.6),(0.56,0.8),(0.70,0.5),(0.88,1.7),(1.03,1.5),(1.11,2.3),(1.25,1.3),(1.50,1.0),(1.68,0.4),(1.76,0.6),(1.90,0.3),(2.09,0),(2.42,0),(2.67,0.2),(3.11,0.3),(4.00,0.3)]
cr_dn_b6 = [(-5.20,0),(-4.98,-0.2),(-4.83,-0.3),(-4.39,-0.2),(-3.66,-0.2),(-2.94,-0.3),(-2.43,-0.4),(-1.99,-0.7),(-1.76,-1.2),(-1.62,-0.7),(-1.41,-0.8),(-1.19,-0.4),(-1.01,-0.6),(-0.83,-0.2),(0.01,0),
            (0.16,-0.7),(0.34,-0.3),(0.77,-0.3),(0.99,-0.6),(1.14,-2.2),(1.29,-2.6),(1.47,-3.8),(1.53,-2.0),(1.61,-10.5),(1.72,-10.5),(1.87,-0.5),(1.97,-2.5),(2.05,-3.0),(2.13,-2.2),(2.22,-3.5),(2.31,-4.2),(2.37,-5.0),(2.49,-3.3),(2.59,-2.0),(2.70,-2.5),(2.85,-0.8),(3.04,-0.6),(3.40,-0.3),(4.00,-0.2)]
ge_up_b6 = [(-5.27,0),(-5.06,0.3),(-4.76,0.1),(-3.66,0.1),(-2.57,0.2),(-1.48,0.2),(-0.97,0.3),(-0.39,0.2),(0.01,0),
            (0.34,0.1),(1.07,0.2),(1.65,0.2),(1.83,0.5),(2.09,0),(2.42,0),(2.82,0.3),(3.15,0.5),(3.55,0.4),(4.00,0.5)]
ge_dn_b6 = [(-5.20,0),(-4.98,-0.2),(-4.39,-0.2),(-3.74,-0.3),(-3.30,-0.2),(-1.84,-0.3),(-1.12,-0.2),(-0.83,-0.4),(-0.39,-0.2),(0.01,0),
            (0.34,-0.2),(1.07,-0.4),(1.50,-0.5),(1.80,-0.3),(2.16,-0.3),(2.82,-0.3),(3.26,-0.3),(4.00,-0.2)]
te_up_b6 = [(-5.27,0),(-5.04,1.2),(-4.94,0.9),(-4.83,1.2),(-4.62,0.8),(-4.43,0.8),(-4.03,1.1),(-3.81,1.0),(-3.52,1.2),(-3.30,1.2),(-3.16,1.5),(-2.97,1.4),(-2.79,2.2),(-2.64,1.5),(-2.49,1.8),(-2.32,1.5),(-2.17,1.0),(-1.84,1.4),(-1.55,1.5),(-1.37,0.7),(-1.19,1.0),(-0.99,1.5),(-0.79,1.0),(-0.61,1.0),(-0.39,0.9),(-0.13,0.3),(0.01,0),
            (0.16,0.2),(0.34,0.5),(0.67,0.6),(0.88,1.3),(1.11,1.6),(1.36,1.2),(1.54,0.8),(1.68,0.6),(1.83,1.7),(1.94,1.3),(2.12,0),(2.42,0),(2.67,0.3),(2.96,0.7),(3.18,0.8),(3.48,0.6),(3.77,0.5),(4.00,0.7)]
te_dn_b6 = [(-5.20,0),(-5.02,-0.5),(-4.87,-1.5),(-4.73,-1.4),(-4.54,-0.9),(-4.21,-0.8),(-4.03,-1.0),(-3.78,-1.3),(-3.59,-0.8),(-3.38,-1.1),(-3.16,-1.5),(-3.01,-1.2),(-2.79,-1.7),(-2.57,-1.9),(-2.35,-1.6),(-2.20,-2.0),(-1.99,-1.5),(-1.76,-2.5),(-1.59,-1.7),(-1.41,-2.3),(-1.22,-1.3),(-1.04,-2.0),(-0.83,-1.3),(-0.61,-0.7),(-0.31,-0.4),(0.01,0),
            (0.16,-0.3),(0.34,-0.2),(0.63,-0.2),(0.92,-0.7),(1.14,-0.9),(1.36,-0.7),(1.65,-0.4),(1.88,0),(2.08,-0.5),(2.23,-1.0),(2.37,-1.3),(2.52,-1.0),(2.67,-1.2),(2.82,-0.5),(3.11,-0.5),(3.40,-0.4),(3.69,-0.6),(4.00,-0.6)]

pressure_labels = ["P=0 GPa", "P=3 GPa", "P=6 GPa"]
col_a_species = ["Cr", "Br"]
col_b_species = ["Cr", "Ge", "Te"]

C_GRAY = "#808080"
COLORS = {"Cr": "#0000ff", "Br": "#800000", "Ge": "#ffff00", "Te": "#008000"}

plt.rcParams["axes.unicode_minus"] = False
plt.rcParams["font.family"] = ["DejaVu Sans"]


def xy(pts):
    e, v = np.array(pts, dtype=float).T
    if e[0] > -6:
        e, v = np.r_[-6.0, e], np.r_[0.0, v]
    if e[-1] < 4:
        e, v = np.r_[e, 4.0], np.r_[v, 0.0]
    return e, v


def draw_panel(ax, tot_up, tot_dn, parts):
    for pts in (tot_up, tot_dn):
        e, v = xy(pts)
        ax.fill_between(e, v, 0, color=C_GRAY, lw=0, zorder=1)
    for name, up, dn in parts:
        for pts in (up, dn):
            e, v = xy(pts)
            ax.plot(e, v, color=COLORS[name], lw=1.7, zorder=2)
    ax.axvline(0, color="k", lw=0.9, ls=(0, (2.6, 1.6)), zorder=3)


def style_axes(ax, lim, yminor, bottom_row, label):
    ax.set_xlim(-6, 4)
    ax.set_ylim(-lim, lim)
    ax.yaxis.set_major_locator(MultipleLocator(5))
    ax.yaxis.set_minor_locator(MultipleLocator(yminor))
    for s in ax.spines.values():
        s.set_linewidth(1.2)
    ax.tick_params(which="both", direction="out", top=False, right=False, width=1.0)
    ax.tick_params(axis="y", which="major", length=3.6, pad=1.2, labelsize=14)
    ax.tick_params(axis="y", which="minor", length=2.3)
    if bottom_row:
        ax.xaxis.set_major_locator(MultipleLocator(1))
        ax.xaxis.set_minor_locator(MultipleLocator(0.2))
        ax.tick_params(axis="x", which="major", length=3.0, labelsize=14, pad=3.5)
        ax.tick_params(axis="x", which="minor", length=2.2)
    else:
        ax.xaxis.set_major_locator(MultipleLocator(0.5))
        ax.tick_params(axis="x", which="major", length=2.4, labelbottom=False)
    ax.text(0.023, 0.926, label, transform=ax.transAxes, ha="left", va="top",
            fontsize=9.5, fontweight="bold", zorder=6)


def legend_box(ax, box, names, baselines, x_text):
    x0, y0, x1, y1 = box
    ax.add_patch(Rectangle((x0, y0), x1 - x0, y1 - y0, transform=ax.transAxes,
                           fc="#b3b3b3", ec="k", lw=1.2, zorder=5))
    for name, yb in zip(names, baselines):
        ax.text(x_text, yb, name, transform=ax.transAxes, color=COLORS[name],
                fontsize=13, fontweight="bold", ha="left", va="baseline", zorder=6)


fig = plt.figure(figsize=(12.555, 7.215), dpi=200)
col_left = [0.0798, 0.5566]
col_width = [0.4227, 0.4247]
row_bottom = [0.6798, 0.3832, 0.0866]
row_height = 0.2523

panels_a = [
    (tot_up_a0, tot_dn_a0, [("Br", br_up_a0, br_dn_a0), ("Cr", cr_up_a0, cr_dn_a0)]),
    (tot_up_a3, tot_dn_a3, [("Br", br_up_a3, br_dn_a3), ("Cr", cr_up_a3, cr_dn_a3)]),
    (tot_up_a6, tot_dn_a6, [("Br", br_up_a6, br_dn_a6), ("Cr", cr_up_a6, cr_dn_a6)]),
]
panels_b = [
    (tot_up_b0, tot_dn_b0, [("Cr", cr_up_b0, cr_dn_b0), ("Ge", ge_up_b0, ge_dn_b0), ("Te", te_up_b0, te_dn_b0)]),
    (tot_up_b3, tot_dn_b3, [("Cr", cr_up_b3, cr_dn_b3), ("Ge", ge_up_b3, ge_dn_b3), ("Te", te_up_b3, te_dn_b3)]),
    (tot_up_b6, tot_dn_b6, [("Cr", cr_up_b6, cr_dn_b6), ("Ge", ge_up_b6, ge_dn_b6), ("Te", te_up_b6, te_dn_b6)]),
]

for c, (panels, lim, yminor) in enumerate([(panels_a, 15, 0.5), (panels_b, 10, 1)]):
    for r, (tu, td, parts) in enumerate(panels):
        ax = fig.add_axes([col_left[c], row_bottom[r], col_width[c], row_height])
        draw_panel(ax, tu, td, parts)
        style_axes(ax, lim, yminor, r == 2, pressure_labels[r])
        if r == 0 and c == 0:
            legend_box(ax, (0.0296, 0.074, 0.103, 0.360), col_a_species,
                       [0.2445, 0.121], 0.0429)
        if r == 0 and c == 1:
            legend_box(ax, (0.0291, 0.052, 0.103, 0.459), col_b_species,
                       [0.343, 0.220, 0.0934], 0.0423)

fig.text(0.0366, 0.9674, "(a)", fontsize=15, ha="center", va="center")
fig.text(0.5305, 0.973, "(b)", fontsize=15, ha="center", va="center")
fig.text(0.0247, 0.5343, "DOS (1/eV)", fontsize=16.5, fontweight="bold",
         rotation=90, ha="center", va="center")
fig.text(0.2855, 0.018, "E (eV)", fontsize=16.5, fontweight="bold", ha="center", va="baseline")
fig.text(0.7734, 0.018, "E (eV)", fontsize=16.5, fontweight="bold", ha="center", va="baseline")

fig.savefig("out.png", dpi=200)
